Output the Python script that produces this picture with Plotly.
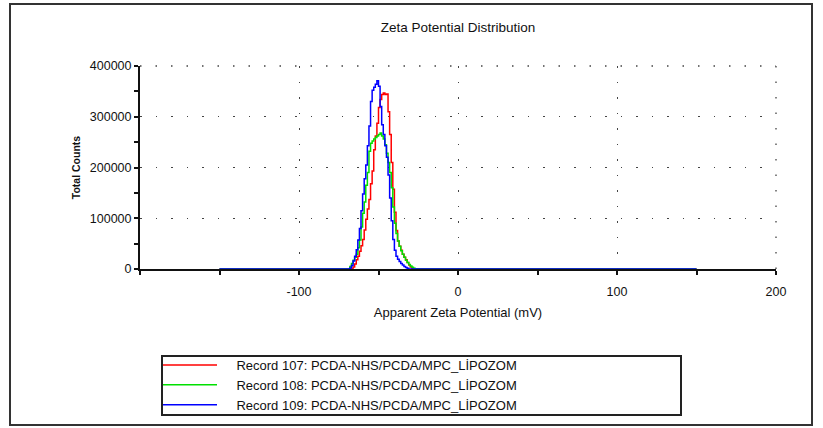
import plotly.graph_objects as go

# Apparent zeta potential (mV) sample positions
zeta_mv = [-150,
           -70, -69, -68, -67, -66, -65, -64, -63, -62, -61,
           -60, -59, -58, -57, -56, -55, -54, -53, -52, -51,
           -50, -49, -48, -47, -46, -45, -44, -43, -42, -41,
           -40, -39, -38, -37, -36, -35, -34, -33, -32, -31,
           -30, -29, -28, -27, -26,
           150]

# Total counts per record
counts_107 = [0,
              0, 0, 0, 0, 4000, 10000, 18000, 25000, 35000, 46000,
              58000, 77000, 98000, 118000, 137000, 168000, 193000, 235000, 262000, 287000,
              318000, 334000, 344000, 347000, 344000, 345000, 310000, 265000, 210000, 157000,
              112000, 76000, 55000, 45000, 37000, 29000, 23000, 18000, 13000, 8000,
              4000, 1500, 0, 0, 0,
              0]

counts_108 = [0,
              0, 0, 5000, 11000, 17000, 23000, 29000, 42000, 57000, 83000,
              110000, 132000, 165000, 190000, 232000, 248000, 252000, 256000, 259000, 262000,
              265000, 268000, 262000, 256000, 245000, 228000, 210000, 190000, 160000, 122000,
              90000, 70000, 55000, 45000, 36000, 29000, 23000, 17000, 13000, 9000,
              6000, 3500, 1500, 0, 0,
              0]

counts_109 = [0,
              0, 0, 2000, 7000, 16000, 25000, 38000, 57000, 80000, 115000,
              148000, 178000, 205000, 243000, 282000, 330000, 352000, 358000, 364000, 371000,
              360000, 320000, 284000, 265000, 243000, 220000, 185000, 140000, 95000, 58000,
              37000, 25000, 19000, 15000, 11000, 8000, 5000, 3000, 1500, 0,
              0, 0, 0, 0, 0,
              0]

record_names = ["Record 107: PCDA-NHS/PCDA/MPC_LİPOZOM",
                "Record 108: PCDA-NHS/PCDA/MPC_LİPOZOM",
                "Record 109: PCDA-NHS/PCDA/MPC_LİPOZOM"]
record_colors = ["#ff0000", "#00e000", "#0000ff"]

x_ticks = [-100, 0, 100, 200]
y_ticks = [0, 100000, 200000, 300000, 400000]

FONT = "Liberation Sans, Arial, sans-serif"
GRID_DASH = "1.5px,14px"

fig = go.Figure()
for name, ys, col in zip(record_names, [counts_107, counts_108, counts_109], record_colors):
    fig.add_trace(go.Scatter(x=zeta_mv, y=ys, mode="lines", name="\u00a0\u00a0\u00a0\u00a0" + name,
                             line=dict(color=col, width=1.5, shape="hv")))

fig.update_layout(
    width=823, height=428,
    margin=dict(l=140, r=47, t=66, b=159, autoexpand=False),
    paper_bgcolor="white", plot_bgcolor="white",
    font=dict(family=FONT, size=12, color="#111"),
    title=dict(text="Zeta Potential Distribution", x=0.5, xref="paper",
               y=1 - 27 / 428, yref="container", yanchor="middle", xanchor="center",
               font=dict(size=13.5, color="#111")),
    showlegend=True,
    legend=dict(x=(158 - 140) / 636, y=1 - 350 / 428, yref="container",
                xanchor="left", yanchor="top",
                bgcolor="rgba(0,0,0,0)", borderwidth=0,
                font=dict(size=13, color="#111"), itemwidth=54,
                tracegroupgap=0),
)

fig.update_xaxes(
    range=[-200, 200], tickvals=x_ticks, ticktext=[str(v) for v in x_ticks],
    showline=True, linecolor="#111", linewidth=2, layer="below traces",
    ticks="outside", ticklen=4, tickwidth=1.5, tickcolor="#111",
    minor=dict(dtick=50, tick0=0, ticks="outside", ticklen=4, tickwidth=1.5, tickcolor="#111", showgrid=False),
    showgrid=True, gridcolor="#444", gridwidth=1.3, griddash=GRID_DASH,
    zeroline=False, ticklabelstandoff=6, automargin=False,
    tickfont=dict(size=12.5),
    title=dict(text="Apparent Zeta Potential (mV)", standoff=10, font=dict(size=13)),
)
fig.update_yaxes(
    range=[0, 400000], tickvals=y_ticks, ticktext=[str(v) for v in y_ticks],
    showline=True, linecolor="#111", linewidth=2, automargin=False,
    ticks="outside", ticklen=4, tickwidth=1.5, tickcolor="#111",
    minor=dict(dtick=50000, tick0=0, ticks="outside", ticklen=4, tickwidth=1.5, tickcolor="#111", showgrid=False),
    showgrid=True, gridcolor="#444", gridwidth=1.3, griddash=GRID_DASH,
    zeroline=False, tickfont=dict(size=12.5),
    title=dict(text="<b>Total Counts</b>", standoff=7, font=dict(size=10.5)),
)

# dotted frame along the top and right edges of the plot area
fig.add_shape(type="line", xref="paper", yref="paper", x0=0, x1=1, y0=1, y1=1,
              line=dict(color="#444", width=1.3, dash=GRID_DASH), layer="below")
fig.add_shape(type="line", xref="paper", yref="paper", x0=1, x1=1, y0=0, y1=1,
              line=dict(color="#444", width=1.3, dash=GRID_DASH), layer="below")

# legend box and outer frame (paper coordinates)
px_x = lambda p: (p - 140) / 636
px_y = lambda p: (269 - p) / 203
fig.add_shape(type="rect", xref="paper", yref="paper",
              x0=px_x(162), x1=px_x(681), y0=px_y(415), y1=px_y(356),
              line=dict(color="#222", width=2), fillcolor="rgba(0,0,0,0)")
fig.add_shape(type="rect", xref="paper", yref="paper",
              x0=px_x(10), x1=px_x(812), y0=px_y(425), y1=px_y(4),
              line=dict(color="#333", width=2), fillcolor="rgba(0,0,0,0)")

fig.write_html("out.html")
